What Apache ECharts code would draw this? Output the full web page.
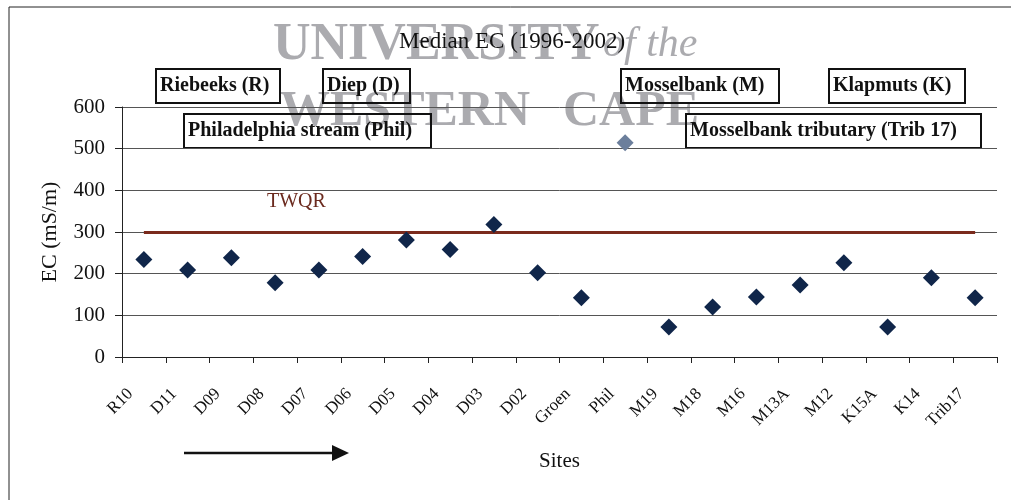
<!DOCTYPE html>
<html>
<head>
  <meta charset="utf-8">
  <script src="https://cdn.jsdelivr.net/npm/echarts@6/dist/echarts.min.js"></script>
  <style>
    html, body { margin: 0; padding: 0; background: #fff; }
    #id_chart { width: 1011px; height: 500px; }
  </style>
</head>
<body>
  <div id="id_chart"></div>
  <script type="text/javascript">
    // sites along the river, upstream -> downstream
    var sites = ['R10', 'D11', 'D09', 'D08', 'D07', 'D06', 'D05', 'D04', 'D03', 'D02',
                 'Groen', 'Phil', 'M19', 'M18', 'M16', 'M13A', 'M12', 'K15A', 'K14', 'Trib17'];
    // median EC (mS/m) 1996-2002
    var medianEC = [234, 209, 238, 178, 209, 241, 281, 258, 318, 202,
                    142, 514, 72, 120, 144, 173, 226, 72, 190, 142];
    var twqrValue = 300;
    var yTicks = [0, 100, 200, 300, 400, 500, 600];

    var serif = '"Liberation Serif", "DejaVu Serif", serif';
    var wmColor = 'rgba(120,120,126,0.62)';

    var pointData = [];
    for (var i = 0; i < sites.length; i++) {
      var item = { value: medianEC[i] };
      if (sites[i] === 'Phil') {
        item.itemStyle = { color: '#6c7f9c' }; // lighter point in the original
      }
      pointData.push(item);
    }

    // river name boxes
    function box(text, x, y, w) {
      return {
        type: 'group', left: x, top: y,
        children: [
          { type: 'rect', shape: { x: 0, y: 0, width: w, height: 34 },
            style: { fill: 'rgba(255,255,255,0)', stroke: '#111', lineWidth: 2 } },
          { type: 'text', x: 4, y: 17,
            style: { text: text, font: 'bold 20px ' + serif, fill: '#111', textVerticalAlign: 'middle' } }
        ]
      };
    }

    var myChart = echarts.init(document.getElementById('id_chart'));
    var option = {
      backgroundColor: '#fff',
      animation: false,
      title: {
        text: 'Median EC (1996-2002)',
        left: 394, top: 25,
        textStyle: { fontFamily: serif, fontSize: 23, fontWeight: 'normal', color: '#111' }
      },
      grid: { left: 122, right: 14, top: 107, bottom: 143 },
      xAxis: {
        type: 'category',
        data: sites,
        boundaryGap: true,
        name: 'Sites',
        nameLocation: 'middle',
        nameGap: 94,
        nameTextStyle: { fontFamily: serif, fontSize: 21, color: '#111' },
        axisLine: { lineStyle: { color: '#222', width: 1 } },
        axisTick: { show: true, alignWithLabel: false, length: 6, lineStyle: { color: '#222' } },
        axisLabel: { rotate: 45, margin: 21, padding: [0, 19, 0, 0], fontFamily: serif, fontSize: 17, color: '#111', interval: 0 },
        splitLine: { show: false }
      },
      yAxis: {
        type: 'value',
        min: yTicks[0], max: yTicks[yTicks.length - 1], interval: 100,
        name: 'EC (mS/m)',
        nameLocation: 'middle',
        nameGap: 61,
        nameTextStyle: { fontFamily: serif, fontSize: 22, color: '#111' },
        axisLine: { show: true, lineStyle: { color: '#222' } },
        axisTick: { show: true, inside: false, length: 7, lineStyle: { color: '#222' } },
        axisLabel: { fontFamily: serif, fontSize: 21, color: '#111', margin: 17 },
        splitLine: { show: true, lineStyle: { color: '#555', width: 1 } }
      },
      series: [{
        name: 'Median EC',
        type: 'scatter',
        symbol: 'diamond',
        symbolSize: 17,
        itemStyle: { color: '#10264a', opacity: 1 },
        data: pointData,
        z: 5,
        markLine: {
          silent: true,
          symbol: ['none', 'none'],
          label: { show: false },
          lineStyle: { color: '#7a2a1c', width: 3, type: 'solid', opacity: 1 },
          data: [[{ coord: [sites[0], twqrValue] }, { coord: [sites[sites.length - 1], twqrValue] }]]
        }
      }],
      graphic: [
        // watermark
        { type: 'text', left: 273, top: 20, z: -1,
          style: { text: 'UNIVERSITY', font: 'bold 52px ' + serif, fill: wmColor } },
        { type: 'text', left: 603, top: 24, z: -1,
          style: { text: 'of the', font: 'italic 42px ' + serif, fill: wmColor } },
        { type: 'text', left: 280, top: 87, z: -1,
          style: { text: 'WESTERN', font: 'bold 50px ' + serif, fill: wmColor } },
        { type: 'text', left: 563, top: 87, z: -1,
          style: { text: 'CAPE', font: 'bold 50px ' + serif, fill: wmColor } },
        // outer frame
        { type: 'rect', shape: { x: 9, y: 7, width: 1100, height: 600 },
          style: { fill: 'none', stroke: '#222', lineWidth: 1 } },
        box('Riebeeks (R)', 155, 68, 124),
        box('Diep (D)', 322, 68, 87),
        box('Philadelphia stream (Phil)', 183, 113, 247),
        box('Mosselbank (M)', 620, 68, 158),
        box('Klapmuts (K)', 828, 68, 136),
        box('Mosselbank tributary (Trib 17)', 685, 113, 295),
        // TWQR label
        { type: 'text', left: 267, top: 192,
          style: { text: 'TWQR', font: '20px ' + serif, fill: '#6b2a1e' } },
        // flow direction arrow
        { type: 'line', shape: { x1: 184, y1: 453, x2: 334, y2: 453 },
          style: { stroke: '#111', lineWidth: 2.5 } },
        { type: 'polygon', shape: { points: [[332, 445], [349, 453], [332, 461]] },
          style: { fill: '#111' } }
      ]
    };
    myChart.setOption(option);
  </script>
</body>
</html>
